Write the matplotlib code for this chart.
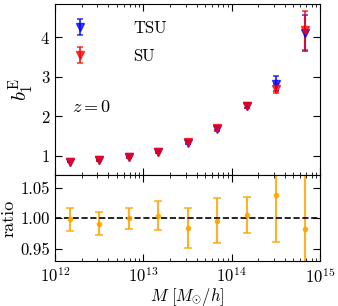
import numpy as np
import matplotlib
matplotlib.use('Agg')
import matplotlib.pyplot as plt

plt.rcParams['font.family'] = 'serif'
plt.rcParams['font.serif'] = ['cmr10']
plt.rcParams['mathtext.fontset'] = 'cm'
plt.rcParams['axes.formatter.use_mathtext'] = True

# bin centres (log10 M)
logM = [12.167, 12.5, 12.833, 13.167, 13.5, 13.833, 14.167, 14.5, 14.833]
mass = [10 ** v for v in logM]

b_tsu = [0.85, 0.88, 0.97, 1.10, 1.33, 1.68, 2.27, 2.83, 4.12]
err_tsu = [0.02, 0.02, 0.03, 0.03, 0.04, 0.05, 0.06, 0.18, 0.46]
b_su = [0.85, 0.88, 0.97, 1.10, 1.34, 1.70, 2.27, 2.70, 4.18]
err_su = [0.02, 0.02, 0.03, 0.03, 0.04, 0.05, 0.06, 0.12, 0.50]

ratio = [0.998, 0.991, 1.000, 1.004, 0.984, 0.996, 1.005, 1.038, 0.982]
err_ratio = [0.019, 0.019, 0.017, 0.024, 0.033, 0.037, 0.030, 0.077, 0.12]

fig, (ax1, ax2) = plt.subplots(2, 1, sharex=True, figsize=(3.38, 3.06), dpi=100,
                               gridspec_kw={'height_ratios': [2, 1], 'hspace': 0})
fig.subplots_adjust(left=0.163, right=0.947, top=0.987, bottom=0.147)

ax1.errorbar(mass, b_tsu, yerr=err_tsu, fmt='v', color='blue', ms=6,
             capsize=2.5, elinewidth=1.5, capthick=1.2, alpha=0.75, label='TSU')
ax1.errorbar(mass, b_su, yerr=err_su, fmt='v', color='red', ms=6,
             capsize=2.5, elinewidth=1.5, capthick=1.2, alpha=0.75, label='SU')
ax1.set_xscale('log')
ax1.set_xlim(1e12, 1e15)
ax1.set_ylim(0.5, 4.85)
ax1.set_yticks([1, 2, 3, 4])
ax1.set_ylabel(r'$b_1^{\mathrm{E}}$', fontsize=15, labelpad=3)
ax1.text(0.065, 0.37, r'$z=0$', transform=ax1.transAxes, fontsize=13)
ax1.legend(loc='upper left', frameon=False, fontsize=12, handlelength=1.0,
           handletextpad=2.7, borderaxespad=0.6, labelspacing=0.75, borderpad=0.4)

ax2.errorbar(mass, ratio, yerr=err_ratio, fmt='o', color='orange', ms=3,
             capsize=3, elinewidth=1.5, capthick=1.2, alpha=0.85)
ax2.axhline(1.0, color='black', ls='--', lw=1.2)
ax2.set_ylim(0.93, 1.07)
ax2.set_yticks([0.95, 1.00, 1.05])
ax2.set_yticklabels(['0.95', '1.00', '1.05'])
ax2.set_ylabel('ratio', fontsize=13, labelpad=3)
ax2.set_xlabel(r'$M\ [M_{\odot}/h]$', fontsize=12, labelpad=0)

for ax in (ax1, ax2):
    ax.tick_params(which='both', direction='in', top=True, right=True, labelsize=12)
    ax.tick_params(which='major', length=5)
    ax.tick_params(which='minor', length=2.5)
ax1.tick_params(labelbottom=False)

plt.savefig('out.png', dpi=100)
